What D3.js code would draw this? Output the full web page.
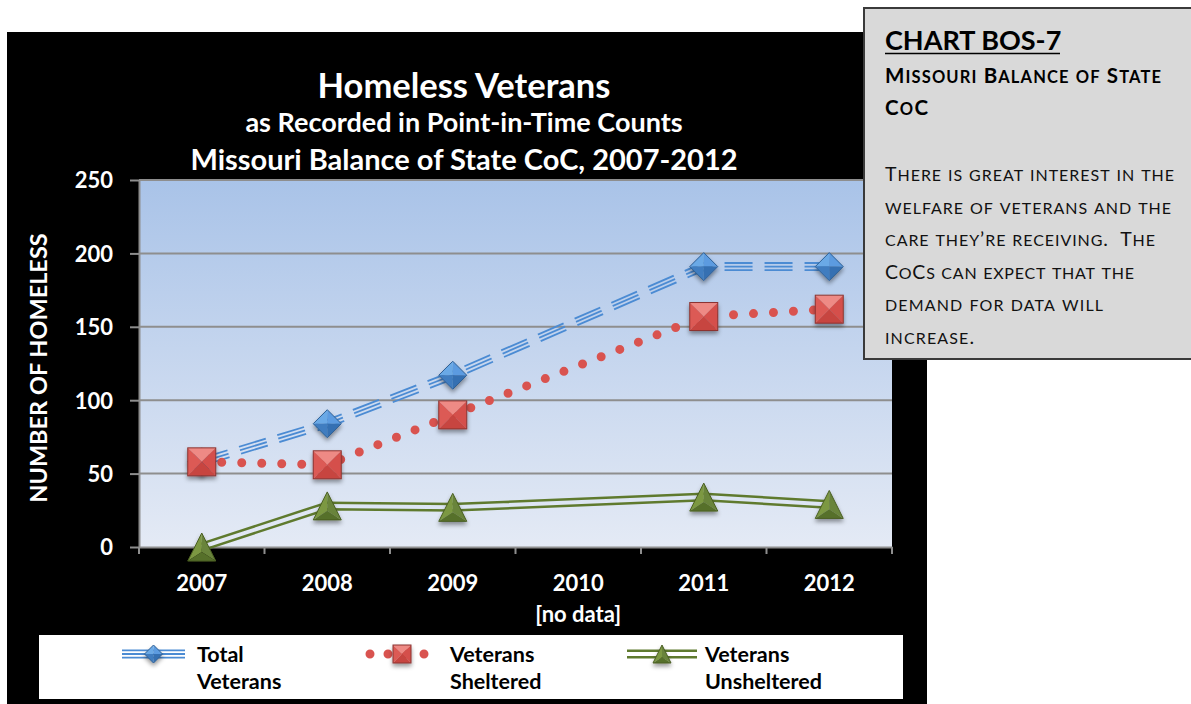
<!DOCTYPE html>
<html><head><meta charset="utf-8">
<script src="https://cdn.jsdelivr.net/npm/d3@7"></script>
<style>
body{margin:0;background:#fff}
svg{display:block}
text{font-family:Lato,"Open Sans",sans-serif}
.up{text-transform:uppercase}
</style>
</head><body>
<svg id="c" width="1191" height="704"></svg>
<script>
// ---------- data ----------
const years = ["2007","2008","2009","2010","2011","2012"];
const yearNotes = ["","","","[no data]","",""];
const totalVeterans = [58, 84, 117, null, 191, 191];
const veteransSheltered = [58, 56, 90, null, 157, 162];
const veteransUnsheltered = [0, 28, 27, null, 34, 29];
const yTicks = [0, 50, 100, 150, 200, 250];
const titleLines = ["Homeless Veterans", "as Recorded in Point-in-Time Counts", "Missouri Balance of State CoC, 2007-2012"];
const yTitle = "NUMBER OF HOMELESS";
const seriesNames = [["Total", "Veterans"], ["Veterans", "Sheltered"], ["Veterans", "Unsheltered"]];
const sideTitle = "CHART BOS-7";
const sideHeading = ["Missouri Balance of State", "CoC"];
const sideBody = ["There is great interest in the", "welfare of veterans and the", "care they\u2019re receiving.  The", "CoCs can expect that the", "demand for data will", "increase."];

// ---------- setup ----------
const svg = d3.select("#c");
const defs = svg.append("defs");
const W = 1191, H = 704;

const grad = defs.append("linearGradient").attr("id", "plotBg").attr("x1", 0).attr("y1", 0).attr("x2", 0).attr("y2", 1);
grad.append("stop").attr("offset", "0%").attr("stop-color", "#a9c3e8");
grad.append("stop").attr("offset", "100%").attr("stop-color", "#e4eaf5");

const sh = defs.append("filter").attr("id", "shadow").attr("x", "-60%").attr("y", "-60%").attr("width", "220%").attr("height", "220%");
sh.append("feDropShadow").attr("dx", 0).attr("dy", 3).attr("stdDeviation", 2).attr("flood-color", "#000").attr("flood-opacity", 0.4);

svg.append("rect").attr("width", W).attr("height", H).attr("fill", "#fff");
svg.append("rect").attr("x", 7).attr("y", 32).attr("width", 920).attr("height", 672).attr("fill", "#000");

const plot = {left: 139, right: 892, top: 180, bottom: 547};
const x = d3.scaleBand().domain(years).range([plot.left, plot.right]);
const cx = yr => x(yr) + x.bandwidth() / 2;
const y = d3.scaleLinear().domain([0, 250]).range([plot.bottom, plot.top]);

svg.append("rect").attr("x", plot.left).attr("y", plot.top)
  .attr("width", plot.right - plot.left).attr("height", plot.bottom - plot.top)
  .attr("fill", "url(#plotBg)");

svg.append("g").selectAll("line").data(yTicks.filter(t => t > 0)).join("line")
  .attr("x1", plot.left).attr("x2", plot.right)
  .attr("y1", d => y(d)).attr("y2", d => y(d))
  .attr("stroke", "#8e8e8e").attr("stroke-width", 2);

const gy = svg.append("g").attr("transform", `translate(${plot.left},0)`)
  .call(d3.axisLeft(y).tickValues(yTicks).tickSize(9).tickPadding(17).tickSizeOuter(0));
gy.select(".domain").attr("stroke", "#8e8e8e").attr("stroke-width", 2);
gy.selectAll(".tick line").attr("stroke", "#8e8e8e").attr("stroke-width", 2);
gy.selectAll(".tick text").attr("fill", "#fff").attr("font-size", 22).attr("font-weight", "bold")
  .attr("font-family", "Lato").attr("dy", "0.36em");

const gx = svg.append("g").attr("transform", `translate(0,${plot.bottom})`)
  .call(d3.axisBottom(x).tickSize(0).tickSizeOuter(0));
gx.select(".domain").attr("stroke", "#8e8e8e").attr("stroke-width", 2);
gx.selectAll(".tick text").attr("fill", "#fff").attr("font-size", 22).attr("font-weight", "bold")
  .attr("font-family", "Lato").attr("y", 44).attr("dy", 0);
gx.selectAll(".tick").append("text")
  .text((d, i) => yearNotes[i])
  .attr("fill", "#fff").attr("font-size", 22).attr("font-weight", "bold").attr("font-family", "Lato")
  .attr("text-anchor", "middle").attr("y", 75);
svg.append("g").selectAll("line").data(years.map(d => x(d)).concat([plot.right])).join("line")
  .attr("x1", d => d).attr("x2", d => d).attr("y1", plot.bottom).attr("y2", plot.bottom + 7)
  .attr("stroke", "#8e8e8e").attr("stroke-width", 2);

// titles
const titleSizes = [34.5, 27, 29];
const titleY = [98, 132, 170];
titleLines.forEach((t, i) => {
  svg.append("text").text(t).attr("x", 464).attr("y", titleY[i]).attr("text-anchor", "middle")
    .attr("fill", "#fff").attr("font-weight", "bold").attr("font-size", titleSizes[i]);
});
svg.append("text").text(yTitle).attr("transform", "translate(47,368) rotate(-90)")
  .attr("text-anchor", "middle").attr("fill", "#fff").attr("font-weight", "bold").attr("font-size", 23.5);

// ---------- series ----------
const series = [
  {values: totalVeterans, style: "triple", color: "#4b8bd3", marker: "diamond"},
  {values: veteransSheltered, style: "dots", color: "#d9534f", marker: "square"},
  {values: veteransUnsheltered, style: "double", color: "#5f7a2e", marker: "triangle"}
];

function strokeLine(g, d, s, id, dash) {
  if (s.style === "dots") {
    g.append("path").attr("d", d).attr("fill", "none").attr("stroke", s.color)
      .attr("stroke-width", 9).attr("stroke-linecap", "round").attr("stroke-dasharray", dash || "0 20");
    return;
  }
  const m = defs.append("mask").attr("id", id).attr("maskUnits", "userSpaceOnUse")
    .attr("x", 0).attr("y", 0).attr("width", W).attr("height", H);
  m.append("rect").attr("width", W).attr("height", H).attr("fill", "#fff");
  if (s.style === "triple") {
    m.append("path").attr("d", d).attr("fill", "none").attr("stroke", "#000").attr("stroke-width", 5.4);
    m.append("path").attr("d", d).attr("fill", "none").attr("stroke", "#fff").attr("stroke-width", 1.8);
    g.append("path").attr("d", d).attr("fill", "none").attr("stroke", s.color).attr("stroke-width", 9)
      .attr("stroke-dasharray", dash || "28 12").attr("mask", `url(#${id})`);
  } else {
    m.append("path").attr("d", d).attr("fill", "none").attr("stroke", "#000").attr("stroke-width", 4);
    g.append("path").attr("d", d).attr("fill", "none").attr("stroke", s.color).attr("stroke-width", 9)
      .attr("mask", `url(#${id})`);
  }
}

function drawMarker(g, type, px, py, h) {
  const mg = g.append("g").attr("transform", `translate(${px},${py})`).attr("filter", "url(#shadow)");
  const poly = (pts, fill) => mg.append("polygon").attr("points", pts.map(p => p.join(",")).join(" ")).attr("fill", fill);
  if (type === "diamond") {
    const T = [0, -h], R = [h, 0], B = [0, h], L = [-h, 0], C = [0, 0];
    poly([L, T, C], "#6aa9e6"); poly([T, R, C], "#5b9be0");
    poly([R, B, C], "#3570b2"); poly([B, L, C], "#3f7dc0");
    mg.append("polygon").attr("points", [T, R, B, L].map(p => p.join(",")).join(" "))
      .attr("fill", "none").attr("stroke", "#2e5f94").attr("stroke-width", 1);
  } else if (type === "square") {
    const a = [-h, -h], b = [h, -h], c = [h, h], e = [-h, h], C = [0, 0];
    poly([a, b, C], "#ee8a85"); poly([b, c, C], "#d5504b");
    poly([c, e, C], "#c7443f"); poly([e, a, C], "#dc5a55");
    mg.append("rect").attr("x", -h).attr("y", -h).attr("width", 2 * h).attr("height", 2 * h)
      .attr("fill", "none").attr("stroke", "#8c3431").attr("stroke-width", 1);
  } else {
    const T = [0, -h], R = [h, h], L = [-h, h], C = [0, h * 0.35];
    poly([L, T, C], "#7c9842"); poly([T, R, C], "#69843a");
    poly([R, L, C], "#566f2b");
    mg.append("polygon").attr("points", [T, R, L].map(p => p.join(",")).join(" "))
      .attr("fill", "none").attr("stroke", "#4a5f22").attr("stroke-width", 1);
  }
}

const line = d3.line().x(d => cx(d.year)).y(d => y(d.value));
const linesG = svg.append("g");
const markersG = svg.append("g");
series.forEach((s, i) => {
  const pts = years.map((yr, j) => ({year: yr, value: s.values[j]})).filter(d => d.value != null);
  strokeLine(linesG, line(pts), s, "mask" + i);
});
series.forEach(s => {
  years.forEach((yr, j) => {
    if (s.values[j] != null) drawMarker(markersG, s.marker, cx(yr), y(s.values[j]), 14);
  });
});

// ---------- legend ----------
svg.append("rect").attr("x", 39).attr("y", 635).attr("width", 864).attr("height", 64).attr("fill", "#fff");
const legendX = [[122, 185, 197], [370, 434, 450], [627, 697, 705]];
series.forEach((s, i) => {
  const [x0, x1, tx] = legendX[i];
  const ly = 654;
  strokeLine(svg, d3.line()([[x0, ly], [x1, ly]]), s, "lmask" + i, s.style === "dots" ? "0 18" : "none");
  drawMarker(svg, s.marker, (x0 + x1) / 2, ly, 9);
  seriesNames[i].forEach((t, k) => {
    svg.append("text").text(t).attr("x", tx).attr("y", 662 + k * 27)
      .attr("font-size", 21.5).attr("font-weight", "bold").attr("fill", "#000");
  });
});

// ---------- side box ----------
svg.append("rect").attr("x", 864).attr("y", 8).attr("width", 340).attr("height", 351)
  .attr("fill", "#d9d9d9").attr("stroke", "#3a3a3a").attr("stroke-width", 2);
svg.append("text").text(sideTitle).attr("x", 885).attr("y", 50).attr("font-size", 27)
  .attr("font-weight", "bold").attr("fill", "#000");
svg.append("line").attr("x1", 885).attr("x2", 1060).attr("y1", 53.5).attr("y2", 53.5).attr("stroke", "#000").attr("stroke-width", 1.5);

// small caps: lowercase source letters shown as smaller capitals
function smallCaps(textSel, str, big, small) {
  const runs = [];
  for (const ch of str) {
    const low = ch !== ch.toUpperCase();
    if (runs.length && runs[runs.length - 1].low === low) runs[runs.length - 1].t += ch;
    else runs.push({low, t: ch});
  }
  runs.forEach(r => {
    textSel.append("tspan").text(r.t).attr("font-size", r.low ? small : big).classed("up", r.low);
  });
}
const headW = [276, 43];
sideHeading.forEach((t, i) => {
  const tx = svg.append("text").attr("x", 885).attr("y", 83 + i * 32)
    .attr("font-weight", "bold").attr("fill", "#000").attr("xml:space", "preserve")
    .attr("textLength", headW[i]).attr("lengthAdjust", "spacing");
  smallCaps(tx, t, 20.5, 16.5);
});
const bodyW = [289, 286, 270, 249, 218, 89];
sideBody.forEach((t, i) => {
  const tx = svg.append("text").attr("x", 885).attr("y", 181 + i * 32.6)
    .attr("fill", "#111").attr("xml:space", "preserve")
    .attr("textLength", bodyW[i]).attr("lengthAdjust", "spacing");
  smallCaps(tx, t, 19.5, 16);
});
</script>
</body></html>
